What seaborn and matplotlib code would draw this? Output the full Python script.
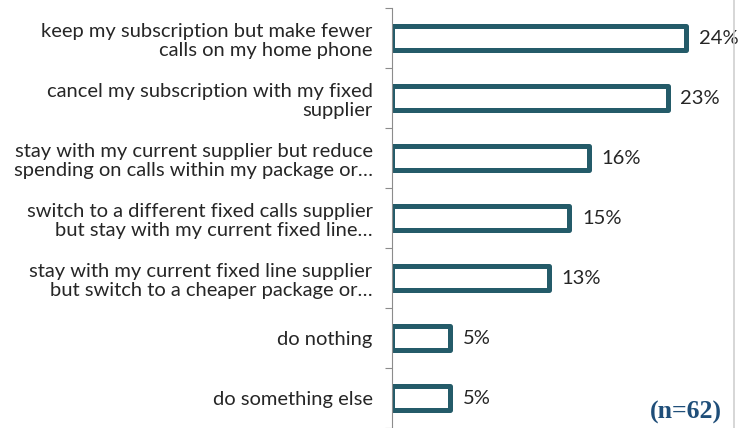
import numpy as np
import pandas as pd
import matplotlib
matplotlib.use("Agg")
import matplotlib.pyplot as plt
import seaborn as sns
from matplotlib.lines import Line2D

# Chart data (bar lengths, labels show rounded values)
labels = [
    "keep my subscription but make fewer\ncalls on my home phone",
    "cancel my subscription with my fixed\nsupplier",
    "stay with my current supplier but reduce\nspending on calls within my package or\u2026",
    "switch to a different fixed calls supplier\nbut stay with my current fixed line\u2026",
    "stay with my current fixed line supplier\nbut switch to a cheaper package or\u2026",
    "do nothing",
    "do something else",
]
values = [24.2, 22.7, 16.2, 14.6, 12.9, 4.8, 4.8]
note = "(n=62)"

df = pd.DataFrame({"label": labels, "value": values})

sns.set_theme(style="white")
plt.rcParams['font.family'] = ['Lato', 'DejaVu Sans']

edge = "#245B69"
text_col = "#262626"

fig = plt.figure(figsize=(7.39, 4.28), dpi=100)
# 0% at x=392px, ~12.15px per percent, axis from y=8 to bottom
ax = fig.add_axes([392 / 739, 0.0, (739 - 392) / 739, 1 - 8 / 428])

sns.barplot(data=df, y="label", x="value", orient="h", ax=ax,
            color="white", edgecolor=edge, linewidth=3.6, width=0.40)
for p in ax.patches:
    p.set_joinstyle("round")
    p.set_facecolor("white")

ax.set_xlim(0, 347 / 12.15)
ax.set_ylim(6.5, -0.5)
ax.set_xlabel("")
ax.set_ylabel("")
ax.set_xticks([])

for i, v in enumerate(values):
    ax.annotate(f"{round(v)}%", (v, i), xytext=(9, 0), textcoords="offset points",
                va="center", ha="left", fontsize=14.5, color=text_col)

ax.tick_params(axis="y", which="major", length=0, pad=14, labelsize=14.5, labelcolor=text_col)
for t in ax.get_yticklabels():
    t.set_ha("right")
    t.set_multialignment("right")
    t.set_linespacing(1.2)
ax.set_yticks(np.arange(-0.5, 7, 1), minor=True)
ax.tick_params(axis="y", which="minor", length=5, width=0.8, color="#8c8c8c", left=True)

for s in ["top", "right", "bottom"]:
    ax.spines[s].set_visible(False)
ax.spines["left"].set_color("#8c8c8c")
ax.spines["left"].set_linewidth(0.8)

fig.text(722 / 739, 1 - 412 / 428, note, ha="right", va="center", fontsize=18.5,
         fontweight="bold", family="Liberation Serif", color="#1F4E79")

fig.add_artist(Line2D([734 / 739, 734 / 739], [0, 1], color="#d0d0d0", linewidth=1.2))

fig.savefig("out.png", dpi=100)
